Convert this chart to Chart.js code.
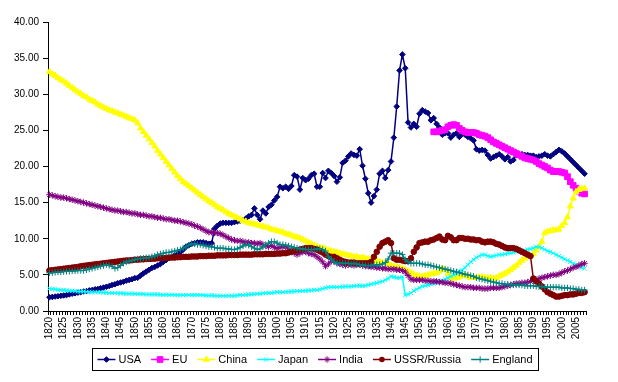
<!DOCTYPE html>
<html><head><meta charset="utf-8">
<script src="https://cdn.jsdelivr.net/npm/chart.js@4/dist/chart.umd.min.js"></script>
<style>html,body{margin:0;padding:0;background:#fff}canvas{display:block}</style>
</head><body>
<canvas id="c" width="618" height="382"></canvas>
<script>
// ---- categories ----
const firstYear = 1820, lastYear = 2008;
const years = [];
for (let y = firstYear; y <= lastYear; y++) years.push(String(y));
const labelEvery = 5;
const yTicks = [0, 5, 10, 15, 20, 25, 30, 35, 40];

// ---- series values (share, %), one value per year 1820..2008 ----
const usa = [
1.9,1.95,2.0,2.05,2.1,2.15,2.2,2.3,2.4,2.45,
2.55,2.6,2.7,2.75,2.85,2.9,3.0,3.05,3.15,3.25,
3.35,3.45,3.6,3.7,3.85,3.95,4.05,4.2,4.3,4.4,
4.55,4.6,4.9,5.2,5.45,5.7,5.95,6.1,6.3,6.5,
6.8,7.05,7.3,7.5,7.7,7.9,8.2,8.5,8.9,9.1,
9.3,9.4,9.5,9.5,9.5,9.4,9.3,9.4,11.4,11.8,
12.1,12.2,12.2,12.2,12.2,12.3,12.4,12.5,12.6,12.8,
13.1,13.3,14.2,13.3,12.7,13.9,13.5,14.4,14.7,15.3,
15.8,17.2,17.0,17.2,16.9,17.3,18.8,18.6,16.8,18.4,
18.1,18.3,18.8,19.0,17.2,17.2,19.1,18.4,19.4,19.1,
18.7,17.9,18.5,20.5,20.8,21.4,21.8,21.6,21.5,22.4,
20.1,18.3,16.3,15.0,15.9,16.8,19.0,19.4,18.4,19.5,
20.7,24.0,28.3,33.3,35.5,33.6,26.1,25.4,25.9,25.5,
27.3,27.8,27.6,27.4,26.4,26.7,25.9,25.4,24.4,24.6,
24.6,24.0,24.4,24.6,24.1,24.5,24.4,24.1,23.9,23.6,
22.4,22.2,22.3,22.2,21.6,21.1,21.3,21.5,21.7,21.4,
21.0,21.3,20.7,20.9,21.6,21.7,21.7,21.6,21.6,21.5,
21.5,21.3,21.4,21.5,21.7,21.5,21.4,21.7,22.0,22.3,
22.1,21.8,21.4,21.0,20.6,20.2,19.8,19.4,19.0];

const euStartYear = 1955;
const euValues = [
24.8,24.8,24.9,25.0,25.1,25.5,25.7,25.8,25.7,25.3,
25.0,24.8,24.7,24.7,24.7,24.6,24.4,24.3,24.2,24.0,
23.7,23.4,23.2,23.0,22.8,22.6,22.4,22.2,22.0,21.8,
21.6,21.4,21.2,21.1,21.0,20.9,20.7,20.4,20.2,20.0,
19.8,19.5,19.3,19.3,19.3,19.2,19.1,18.6,17.9,17.4,
17.0,16.6,16.3,16.2];

const china = [
33.1,32.8,32.6,32.3,32.0,31.8,31.5,31.2,30.9,30.6,
30.3,30.1,29.8,29.6,29.3,29.1,28.9,28.6,28.4,28.2,
28.0,27.8,27.7,27.5,27.4,27.2,27.1,26.9,26.7,26.6,
26.4,26.0,25.3,24.8,24.3,23.8,23.3,22.8,22.2,21.7,
21.2,20.7,20.2,19.7,19.2,18.7,18.3,17.9,17.6,17.3,
17.0,16.7,16.4,16.1,15.8,15.5,15.2,15.0,14.7,14.4,
14.2,14.0,13.7,13.5,13.3,13.1,12.9,12.7,12.5,12.4,
12.2,12.1,12.0,11.9,11.8,11.7,11.6,11.5,11.3,11.2,
11.1,11.0,10.9,10.7,10.6,10.5,10.3,10.2,10.1,9.9,
9.7,9.5,9.3,9.1,8.9,8.8,8.7,8.6,8.4,8.3,
8.2,8.1,8.0,7.9,7.8,7.7,7.6,7.5,7.5,7.4,
7.4,7.3,7.2,7.1,7.0,6.9,6.8,6.7,6.6,6.5,
6.3,6.2,6.1,6.0,5.9,5.7,5.5,5.3,5.1,4.9,
4.8,4.8,4.9,5.0,5.1,5.2,5.3,5.5,5.9,5.7,
5.2,4.6,4.5,4.6,4.7,4.9,5.0,4.8,4.6,4.6,
4.6,4.7,4.7,4.6,4.6,4.6,4.5,4.6,4.8,5.0,
5.2,5.4,5.7,6.0,6.3,6.7,7.0,7.3,7.5,7.6,
7.9,8.4,8.9,9.6,10.8,11.0,11.1,11.2,11.2,11.3,
11.8,12.2,13.0,14.5,15.6,16.5,16.8,16.9,17.0];

const japan = [
3.1,3.05,3.0,2.95,2.9,2.9,2.85,2.8,2.8,2.75,
2.7,2.7,2.7,2.65,2.65,2.6,2.6,2.6,2.6,2.55,
2.55,2.5,2.5,2.5,2.45,2.45,2.45,2.4,2.4,2.4,
2.4,2.35,2.35,2.35,2.3,2.3,2.3,2.3,2.3,2.25,
2.25,2.25,2.25,2.25,2.2,2.2,2.2,2.2,2.2,2.2,
2.2,2.2,2.2,2.2,2.2,2.15,2.15,2.15,2.1,2.1,
2.1,2.1,2.1,2.1,2.1,2.1,2.15,2.2,2.2,2.25,
2.3,2.3,2.35,2.4,2.4,2.45,2.5,2.5,2.5,2.55,
2.6,2.6,2.6,2.65,2.65,2.7,2.7,2.75,2.75,2.8,
2.8,2.85,2.85,2.9,2.9,3.0,3.1,3.2,3.3,3.3,
3.3,3.3,3.35,3.35,3.4,3.4,3.4,3.45,3.5,3.5,
3.5,3.5,3.6,3.7,3.8,3.9,4.0,4.1,4.3,4.5,
4.8,4.7,4.6,4.6,4.7,2.2,2.3,2.5,2.8,3.0,
3.2,3.4,3.5,3.6,3.7,3.8,3.9,4.1,4.2,4.4,
4.6,4.8,5.0,5.2,5.5,5.7,6.0,6.4,6.8,7.1,
7.4,7.6,7.8,7.8,7.6,7.5,7.6,7.7,7.8,7.8,
7.9,8.0,8.0,8.1,8.2,8.3,8.3,8.4,8.5,8.6,
8.7,8.9,8.9,8.7,8.5,8.3,8.2,8.0,7.8,7.6,
7.4,7.2,7.0,6.8,6.6,6.4,6.2,6.0,5.9];

const india = [
16.1,16.0,15.9,15.8,15.7,15.7,15.6,15.5,15.4,15.3,
15.2,15.1,15.0,14.9,14.8,14.7,14.6,14.5,14.4,14.3,
14.2,14.1,14.0,13.9,13.9,13.8,13.7,13.7,13.6,13.5,
13.5,13.4,13.3,13.3,13.2,13.1,13.1,13.0,12.9,12.9,
12.8,12.7,12.7,12.6,12.5,12.5,12.4,12.3,12.2,12.1,
12.0,11.8,11.7,11.5,11.3,11.1,10.9,10.9,10.8,10.8,
10.7,10.5,10.3,10.1,9.9,9.8,9.7,9.7,9.6,9.5,
9.5,9.4,9.4,9.3,9.4,9.2,9.0,8.9,9.1,8.8,
8.7,8.8,8.9,8.9,8.6,8.3,8.0,7.8,8.0,8.2,
8.2,8.0,7.9,7.8,7.5,7.2,6.8,6.2,6.5,6.9,
6.9,6.7,6.5,6.4,6.3,6.4,6.4,6.3,6.4,6.4,
6.3,6.2,6.2,6.1,6.1,6.0,6.0,5.9,5.9,5.8,
5.8,5.8,5.7,5.7,5.6,5.4,4.9,4.4,4.3,4.3,
4.3,4.3,4.2,4.2,4.1,4.1,4.1,4.0,4.0,3.9,
3.9,3.8,3.7,3.6,3.5,3.4,3.3,3.3,3.3,3.2,
3.2,3.2,3.1,3.1,3.1,3.2,3.2,3.2,3.2,3.3,
3.4,3.5,3.6,3.7,3.8,3.8,3.9,3.9,4.0,4.1,
4.2,4.3,4.5,4.6,4.7,4.8,4.9,5.0,5.0,5.1,
5.3,5.5,5.6,5.8,6.0,6.1,6.3,6.5,6.6];

const ussrRussia = [
5.6,5.65,5.7,5.75,5.8,5.85,5.9,5.95,6.0,6.05,
6.1,6.2,6.25,6.3,6.35,6.4,6.45,6.5,6.55,6.6,
6.65,6.7,6.75,6.8,6.85,6.9,6.95,7.0,7.0,7.05,
7.1,7.1,7.15,7.15,7.2,7.2,7.25,7.25,7.3,7.3,
7.35,7.35,7.4,7.4,7.4,7.45,7.45,7.5,7.5,7.5,
7.55,7.55,7.55,7.6,7.6,7.6,7.65,7.65,7.65,7.7,
7.7,7.7,7.7,7.75,7.75,7.75,7.75,7.8,7.8,7.8,
7.8,7.8,7.85,7.85,7.85,7.85,7.9,7.9,7.9,7.9,
7.95,7.95,8.0,8.0,8.1,8.2,8.3,8.4,8.5,8.6,
8.7,8.7,8.7,8.6,8.5,8.3,8.1,7.8,7.6,7.5,
7.5,7.3,7.1,6.9,6.8,6.7,6.7,6.7,6.6,6.6,
6.6,6.6,6.6,6.8,7.5,8.2,8.9,9.4,9.6,9.8,
9.4,7.3,7.1,7.1,7.0,6.9,6.9,7.3,8.2,8.8,
9.4,9.5,9.6,9.6,9.8,9.9,10.1,10.3,9.9,9.8,
10.4,10.2,9.8,9.8,10.1,10.1,10.0,10.0,9.9,9.9,
9.8,9.8,9.6,9.5,9.6,9.6,9.5,9.3,9.2,9.0,
8.8,8.7,8.7,8.7,8.6,8.4,8.2,8.0,7.8,7.6,
4.5,4.1,3.8,3.4,3.0,2.6,2.4,2.2,2.0,2.0,
2.1,2.2,2.2,2.3,2.3,2.4,2.5,2.5,2.6];

const england = [
5.3,5.3,5.35,5.4,5.4,5.45,5.5,5.5,5.55,5.55,
5.6,5.6,5.6,5.7,5.8,5.9,6.0,6.1,6.2,6.3,
6.4,6.3,6.2,5.9,6.0,6.3,6.6,6.8,6.9,7.0,
7.1,7.2,7.25,7.3,7.35,7.4,7.5,7.6,7.8,7.9,
8.0,8.1,8.1,8.2,8.3,8.4,8.5,8.7,8.9,9.1,
9.3,9.3,9.2,9.2,9.1,9.0,8.9,8.9,8.8,8.7,
8.7,8.7,8.6,8.6,8.5,8.5,8.6,8.8,9.0,9.2,
9.1,8.9,8.7,8.5,8.6,8.9,9.2,9.4,9.6,9.6,
9.4,9.2,9.2,9.1,9.0,8.9,8.8,8.7,8.6,8.6,
8.5,8.5,8.5,8.5,8.6,8.6,8.5,8.3,7.5,7.2,
6.8,6.6,6.6,6.6,6.6,6.6,6.5,6.6,6.5,6.4,
6.4,6.3,6.3,6.3,6.4,6.4,6.4,6.5,6.7,7.2,
8.0,8.0,8.0,8.0,7.8,7.1,6.8,6.6,6.6,6.6,
6.6,6.5,6.4,6.4,6.3,6.2,6.1,6.0,5.9,5.8,
5.7,5.6,5.5,5.4,5.3,5.2,5.1,5.0,4.9,4.8,
4.6,4.5,4.4,4.3,4.2,4.1,4.0,3.9,3.8,3.8,
3.7,3.7,3.6,3.6,3.6,3.6,3.6,3.5,3.5,3.5,
3.5,3.4,3.4,3.4,3.3,3.3,3.3,3.3,3.3,3.3,
3.2,3.2,3.2,3.1,3.1,3.0,3.0,2.9,2.9];

// EU aligned to the full year axis (no values before its first year)
const eu = years.map(y => (+y >= euStartYear ? euValues[+y - euStartYear] : null));

const seriesNames = ['USA', 'EU', 'China', 'Japan', 'India', 'USSR/Russia', 'England'];
const seriesData = [usa, eu, china, japan, india, ussrRussia, england];

// ---- styles ----
const styles = [
  {color:'#000080', point:'rectRot', r:2.8, bw:1},
  {color:'#FF00FF', point:'rect', r:4.0, bw:1},
  {color:'#FFFF00', point:'triangle', r:3.5, bw:1},
  {color:'#00FFFF', point:'crossRot', r:3, bw:1},
  {color:'#800080', point:'star', r:3.2, bw:1},
  {color:'#800000', point:'circle', r:2.8, bw:1},
  {color:'#008080', point:'cross', r:3.2, bw:1}
];
const FONT = '"Liberation Sans", Arial, Helvetica, sans-serif';

const datasets = seriesNames.map((name, i) => ({
  label: name,
  data: seriesData[i],
  borderColor: styles[i].color,
  backgroundColor: styles[i].color,
  pointBackgroundColor: styles[i].color,
  pointBorderColor: styles[i].color,
  pointStyle: styles[i].point,
  pointRadius: styles[i].r,
  pointBorderWidth: styles[i].bw,
  borderWidth: 1.5,
  tension: 0,
  spanGaps: false,
  fill: false,
  order: seriesNames.length - i
}));

function drawMarker(ctx, style, x, y) {
  const r = style.r;
  ctx.fillStyle = style.color; ctx.strokeStyle = style.color; ctx.lineWidth = 1;
  ctx.beginPath();
  switch (style.point) {
    case 'rectRot': ctx.moveTo(x, y - r); ctx.lineTo(x + r, y); ctx.lineTo(x, y + r); ctx.lineTo(x - r, y); ctx.closePath(); ctx.fill(); ctx.stroke(); break;
    case 'rect': { const s = r * Math.SQRT1_2; ctx.rect(x - s, y - s, 2 * s, 2 * s); ctx.fill(); ctx.stroke(); break; }
    case 'triangle': ctx.moveTo(x, y - r); ctx.lineTo(x + r * 0.87, y + r * 0.5); ctx.lineTo(x - r * 0.87, y + r * 0.5); ctx.closePath(); ctx.fill(); ctx.stroke(); break;
    case 'crossRot': { const d = r * Math.SQRT1_2; ctx.moveTo(x - d, y - d); ctx.lineTo(x + d, y + d); ctx.moveTo(x + d, y - d); ctx.lineTo(x - d, y + d); ctx.stroke(); break; }
    case 'star': { const d = r * Math.SQRT1_2; ctx.moveTo(x - d, y - d); ctx.lineTo(x + d, y + d); ctx.moveTo(x + d, y - d); ctx.lineTo(x - d, y + d); ctx.moveTo(x, y - r); ctx.lineTo(x, y + r); ctx.stroke(); break; }
    case 'circle': ctx.arc(x, y, r, 0, Math.PI * 2); ctx.fill(); break;
    case 'cross': ctx.moveTo(x - r, y); ctx.lineTo(x + r, y); ctx.moveTo(x, y - r); ctx.lineTo(x, y + r); ctx.stroke(); break;
  }
}

const boxLegend = {
  id: 'boxLegend',
  afterDraw(chart) {
    const ctx = chart.ctx;
    ctx.save();
    ctx.font = '11px ' + FONT;
    const lineLen = 18, textOff = 21, gap = 10;
    const widths = seriesNames.map(n => ctx.measureText(n).width);
    let total = 0;
    widths.forEach((w, i) => { total += textOff + w + (i < widths.length - 1 ? gap : 0); });
    const boxL = 92, boxR = 538, boxT = 348, boxB = 370;
    const cx = (boxL + boxR) / 2;
    let x = cx - total / 2;
    const y = (boxT + boxB) / 2 + 0.5;
    ctx.strokeStyle = '#000'; ctx.lineWidth = 1;
    ctx.strokeRect(boxL + 0.5, boxT + 0.5, boxR - boxL, boxB - boxT);
    ctx.textBaseline = 'middle';
    seriesNames.forEach((n, i) => {
      const st = styles[i];
      ctx.strokeStyle = st.color; ctx.lineWidth = 1.5;
      ctx.beginPath(); ctx.moveTo(x, y); ctx.lineTo(x + lineLen, y); ctx.stroke();
      drawMarker(ctx, st, x + lineLen / 2, y);
      ctx.fillStyle = '#000';
      ctx.fillText(n, x + textOff, y);
      x += textOff + widths[i] + gap;
    });
    ctx.restore();
  }
};

new Chart(document.getElementById('c'), {
  type: 'line',
  data: { labels: years, datasets },
  plugins: [boxLegend],
  options: {
    responsive: false,
    animation: false,
    devicePixelRatio: 1,
    events: [],
    layout: { padding: { left: 0, right: 32, top: 22, bottom: 40 } },
    plugins: { legend: { display: false }, tooltip: { enabled: false }, title: { display: false } },
    scales: {
      x: {
        type: 'category',
        offset: true,
        grid: { offset: true, drawOnChartArea: false, drawTicks: true, tickLength: 4, color: '#000', lineWidth: 1 },
        border: { display: true, color: '#000', width: 1 },
        ticks: {
          autoSkip: false, maxRotation: 90, minRotation: 90, padding: 2, color: '#000',
          font: { family: FONT, size: 10 },
          callback: (v, i) => (+years[i] % labelEvery === 0 ? years[i] : '')
        },
        afterFit: s => { s.height = 31; }
      },
      y: {
        min: yTicks[0], max: yTicks[yTicks.length - 1],
        afterBuildTicks: s => { s.ticks = yTicks.map(v => ({ value: v })); },
        grid: { drawOnChartArea: false, drawTicks: true, tickLength: 5, color: '#000' },
        border: { display: true, color: '#000', width: 1 },
        ticks: { padding: 4, color: '#000', font: { family: FONT, size: 10 }, callback: v => Number(v).toFixed(2) },
        afterFit: s => { s.width = 48; }
      }
    }
  }
});
</script>
</body></html>
